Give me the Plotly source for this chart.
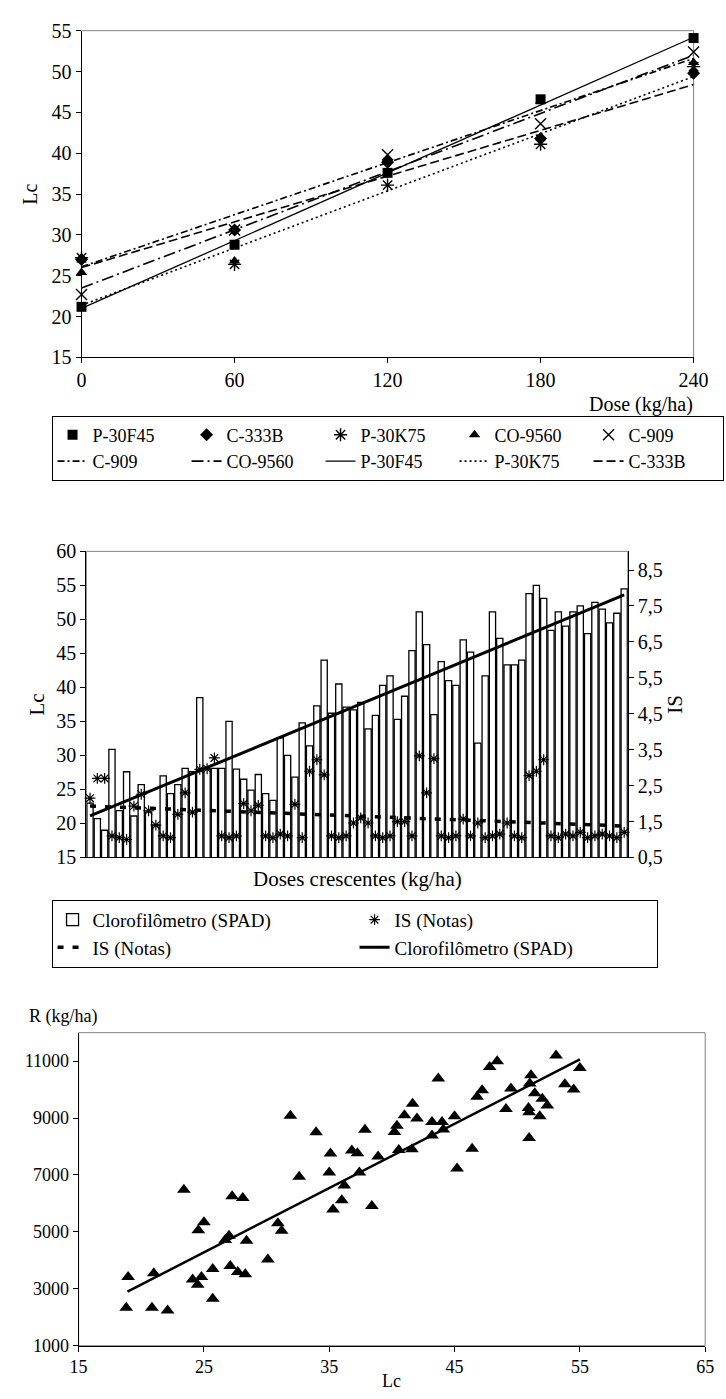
import plotly.graph_objects as go

# ---------------- Chart 1 data ----------------
doses = [0, 60, 120, 180, 240]
p30f45 = [21.2, 28.8, 37.6, 46.6, 54.1]
c333b = [27.0, 30.6, 38.9, 41.8, 49.8]
p30k75 = [27.2, 26.4, 36.1, 41.1, 50.6]
co9560 = [25.4, 26.8, 39.3, 46.4, 51.1]
c909 = [22.7, 30.6, 39.8, 43.6, 52.4]
# trend lines read at dose 0 and 240
trend_doses = [0, 240]
c909_trend = [26.1, 51.6]
co9560_trend = [23.5, 52.0]
p30f45_trend = [21.0, 54.2]
p30k75_trend = [21.4, 49.4]
c333b_trend = [26.0, 48.4]

# ---------------- Chart 2 data ----------------
categories = list(range(1, 75))
spad = [23.0, 20.7, 19.0, 30.9, 21.9, 27.6, 21.1, 25.7, 21.7, 19.8,
        27.0, 24.4, 25.7, 28.1, 27.6, 38.5, 28.0, 28.1, 28.1, 35.0,
        28.0, 26.5, 24.9, 27.2, 24.4, 23.4, 32.6, 30.0, 26.8, 34.8,
        31.4, 37.3, 44.0, 36.2, 40.5, 37.1, 36.7, 37.8, 33.9, 35.9,
        40.3, 41.7, 35.3, 38.7, 45.4, 51.1, 46.3, 36.0, 43.8, 41.0,
        40.3, 47.0, 45.2, 31.8, 41.7, 51.1, 47.2, 43.3, 43.3, 44.0,
        53.8, 55.0, 53.1, 48.4, 51.1, 49.0, 51.1, 52.0, 47.9, 52.5,
        51.5, 49.5, 50.9, 54.5]
is_notas = [2.15, 2.7, 2.7, 1.1, 1.05, 1.0, 1.93, 2.26, 1.8, 1.4,
            1.1, 1.05, 1.7, 2.3, 1.76, 2.95, 2.97, 3.27, 1.1, 1.05,
            1.1, 2.0, 1.8, 1.95, 1.1, 1.05, 1.15, 1.1, 1.98, 1.05,
            2.9, 3.22, 2.8, 1.1, 1.05, 1.1, 1.46, 1.6, 1.46, 1.1,
            1.05, 1.1, 1.5, 1.5, 1.1, 3.33, 2.3, 3.25, 1.1, 1.05,
            1.1, 1.57, 1.1, 1.46, 1.05, 1.1, 1.15, 1.46, 1.1, 1.05,
            2.78, 2.9, 3.22, 1.1, 1.05, 1.15, 1.1, 1.2, 1.05, 1.1,
            1.15, 1.1, 1.05, 1.2]
trend_cats = [1, 74]
is_trend = [1.93, 1.375]
spad_trend = [21.1, 53.6]
is_tickvals = [0.5, 1.5, 2.5, 3.5, 4.5, 5.5, 6.5, 7.5, 8.5]
is_ticktext = ["0,5", "1,5", "2,5", "3,5", "4,5", "5,5", "6,5", "7,5", "8,5"]

# ---------------- Chart 3 data ----------------
lc = [18.95, 18.8, 20.85, 21.0, 22.1, 23.4, 24.1, 24.5, 24.8, 24.55,
      25.0, 25.7, 25.7, 26.7, 27.0, 27.1, 27.25, 27.7, 28.1, 28.3,
      28.4, 30.1, 30.9, 31.2, 31.9, 32.6, 33.95, 35.0, 35.1, 35.3,
      36.0, 36.2, 36.8, 37.25, 37.4, 37.85, 38.4, 38.9, 40.2, 40.4,
      40.55, 41.0, 41.65, 41.6, 42.0, 43.2, 43.2, 43.7, 44.0, 44.1,
      45.0, 45.2, 46.4, 46.8, 47.2, 47.8, 48.4, 49.1, 49.5, 50.9,
      50.95, 50.95, 51.1, 51.0, 51.4, 51.8, 52.0, 52.4, 53.1, 53.8,
      54.5, 55.0]
rend = [3416, 2330, 2330, 3543, 2237, 6480, 3323, 3140, 3416, 5058,
        5335, 3693, 2653, 4710, 4860, 3800, 6250, 3590, 6190, 3510,
        4690, 4030, 5300, 5035, 9080, 6940, 8500, 7090, 7750, 5790,
        6110, 6630, 7855, 7760, 7090, 8590, 5910, 7650, 8510, 8730,
        7880, 9100, 9500, 7900, 8980, 8860, 8390, 10390, 8860, 8600,
        9060, 7230, 7920, 9750, 9980, 10790, 11000, 9320, 10040, 9350,
        9200, 8300, 10500, 10210, 9870, 9060, 9680, 9440, 11200, 10190,
        10000, 10760]
lc_trend = [18.9, 55.0]
rend_trend = [2900, 11060]
lc_ticks = [15, 25, 35, 45, 55, 65]
rend_ticks = [1000, 3000, 5000, 7000, 9000, 11000]

FONT = "Liberation Serif"
H = 1399.0
W = 726.0


def py(px):
    return 1 - px / H


def pxx(px):
    return px / W


fig = go.Figure()

# ---- chart 1 markers ----
fig.add_trace(go.Scatter(x=doses, y=p30f45, mode="markers", name="P-30F45",
                         marker=dict(symbol="square", size=10, color="black"),
                         cliponaxis=False, legend="legend"))
fig.add_trace(go.Scatter(x=doses, y=c333b, mode="markers", name="C-333B",
                         marker=dict(symbol="diamond", size=10, color="black"),
                         cliponaxis=False, legend="legend"))
fig.add_trace(go.Scatter(x=doses, y=p30k75, mode="markers", name="P-30K75",
                         marker=dict(symbol="asterisk-open", size=11, color="black",
                                     line=dict(color="black", width=1.4)),
                         cliponaxis=False, legend="legend"))
fig.add_trace(go.Scatter(x=doses, y=co9560, mode="markers", name="CO-9560",
                         marker=dict(symbol="triangle-up", size=10, color="black"),
                         cliponaxis=False, legend="legend"))
fig.add_trace(go.Scatter(x=doses, y=c909, mode="markers", name="C-909",
                         marker=dict(symbol="x-thin-open", size=11, color="black",
                                     line=dict(color="black", width=1.4)),
                         cliponaxis=False, legend="legend"))
# ---- chart 1 trend lines ----
fig.add_trace(go.Scatter(x=trend_doses, y=c909_trend, mode="lines", name="C-909",
                         line=dict(color="black", width=1.6, dash="7px,3px,2px,3px"),
                         legend="legend"))
fig.add_trace(go.Scatter(x=trend_doses, y=co9560_trend, mode="lines", name="CO-9560",
                         line=dict(color="black", width=1.6, dash="12px,4px,2px,4px"),
                         legend="legend"))
fig.add_trace(go.Scatter(x=trend_doses, y=p30f45_trend, mode="lines", name="P-30F45",
                         line=dict(color="black", width=1.3), legend="legend"))
fig.add_trace(go.Scatter(x=trend_doses, y=p30k75_trend, mode="lines", name="P-30K75",
                         line=dict(color="black", width=1.6, dash="2px,3px"),
                         legend="legend"))
fig.add_trace(go.Scatter(x=trend_doses, y=c333b_trend, mode="lines", name="C-333B",
                         line=dict(color="black", width=1.6, dash="9px,4px"),
                         legend="legend"))

# ---- chart 2 ----
fig.add_trace(go.Bar(x=categories, y=spad, name="Clorofilômetro (SPAD)",
                     marker=dict(color="white", line=dict(color="black", width=1.3)),
                     xaxis="x2", yaxis="y2", legend="legend2"))
fig.add_trace(go.Scatter(x=categories, y=is_notas, mode="markers", name="IS (Notas)",
                         marker=dict(symbol="asterisk-open", size=9, color="black",
                                     line=dict(color="black", width=1.2)),
                         xaxis="x2", yaxis="y3", legend="legend2", cliponaxis=False))
fig.add_trace(go.Scatter(x=trend_cats, y=is_trend, mode="lines", name="IS (Notas)",
                         line=dict(color="black", width=3.5, dash="6px,9px"),
                         xaxis="x2", yaxis="y3", legend="legend2"))
fig.add_trace(go.Scatter(x=trend_cats, y=spad_trend, mode="lines",
                         name="Clorofilômetro (SPAD)",
                         line=dict(color="black", width=3),
                         xaxis="x2", yaxis="y2", legend="legend2"))

# ---- chart 3 ----
fig.add_trace(go.Scatter(x=lc, y=rend, mode="markers", name="R",
                         marker=dict(symbol="triangle-up", size=12, color="black"),
                         xaxis="x3", yaxis="y4", showlegend=False, cliponaxis=False))
fig.add_trace(go.Scatter(x=lc_trend, y=rend_trend, mode="lines", name="Linear (R)",
                         line=dict(color="black", width=2.5),
                         xaxis="x3", yaxis="y4", showlegend=False))

axis_common = dict(showline=True, linecolor="black", linewidth=1, showgrid=False,
                   zeroline=False, ticks="outside", tickcolor="black", ticklen=5,
                   tickwidth=1)

fig.update_layout(
    width=726, height=1399, autosize=False,
    margin=dict(l=0, r=0, t=0, b=0),
    paper_bgcolor="white", plot_bgcolor="white",
    font=dict(family=FONT, color="black", size=20),
    bargap=0.15,
    xaxis=dict(domain=[pxx(75), pxx(708)], anchor="y", range=[0, 240],
               tickvals=doses, tickfont=dict(size=20), **axis_common),
    yaxis=dict(domain=[py(352), py(20)], anchor="x", range=[15, 55], dtick=5,
               tickfont=dict(size=20),
               title=dict(text="Lc", font=dict(size=20), standoff=8), **axis_common),
    xaxis2=dict(domain=[pxx(80), pxx(640)], anchor="y2", range=[0.5, 74.5],
                showticklabels=False, showline=True, linecolor="black",
                showgrid=False, zeroline=False, ticks=""),
    yaxis2=dict(domain=[py(860), py(549)], anchor="x2", range=[15, 60], dtick=5,
                tickfont=dict(size=20),
                title=dict(text="Lc", font=dict(size=21), standoff=5), **axis_common),
    yaxis3=dict(overlaying="y2", anchor="x2", side="right", range=[0.5, 9.02],
                tickvals=is_tickvals, ticktext=is_ticktext, tickfont=dict(size=20),
                title=dict(text="IS", font=dict(size=21), standoff=5), **axis_common),
    xaxis3=dict(domain=[pxx(72), pxx(720)], anchor="y4", range=[15, 65],
                tickvals=lc_ticks, tickfont=dict(size=18), **axis_common),
    yaxis4=dict(domain=[py(1356), py(1038)], anchor="x3", range=[1000, 12000],
                tickvals=rend_ticks, tickformat="d",
                tickfont=dict(size=18), **axis_common),
    legend=dict(orientation="h", x=pxx(44), y=py(411), xanchor="left", yanchor="top",
                bordercolor="black", borderwidth=1, bgcolor="white",
                font=dict(size=18, family=FONT), entrywidth=89, entrywidthmode="pixels",
                traceorder="normal", tracegroupgap=0),
    legend2=dict(orientation="h", x=pxx(44), y=py(903), xanchor="left", yanchor="top",
                 bordercolor="black", borderwidth=1, bgcolor="white",
                 font=dict(size=19, family=FONT), entrywidth=257, entrywidthmode="pixels",
                 traceorder="normal", tracegroupgap=0),
    annotations=[
        dict(text="Dose (kg/ha)", x=pxx(709), y=py(400), xref="paper", yref="paper",
             xanchor="right", yanchor="middle", showarrow=False, font=dict(size=20)),
        dict(text="Doses crescentes (kg/ha)", x=pxx(360), y=py(882), xref="paper",
             yref="paper", xanchor="center", yanchor="middle", showarrow=False,
             font=dict(size=21)),
        dict(text="R (kg/ha)", x=pxx(19), y=py(1022), xref="paper", yref="paper",
             xanchor="left", yanchor="middle", showarrow=False, font=dict(size=18)),
        dict(text="Lc", x=pxx(396), y=py(1392), xref="paper", yref="paper",
             xanchor="center", yanchor="middle", showarrow=False, font=dict(size=18)),
    ],
    shapes=[
        dict(type="rect", xref="x domain", yref="y domain", x0=0, x1=1, y0=0, y1=1,
             line=dict(color="#808080", width=1), layer="below"),
        dict(type="rect", xref="x2 domain", yref="y2 domain", x0=0, x1=1, y0=0, y1=1,
             line=dict(color="#808080", width=1), layer="below"),
        dict(type="rect", xref="x3 domain", yref="y4 domain", x0=0, x1=1, y0=0, y1=1,
             line=dict(color="#808080", width=1), layer="below"),
    ],
)

fig.write_html("out.html")
